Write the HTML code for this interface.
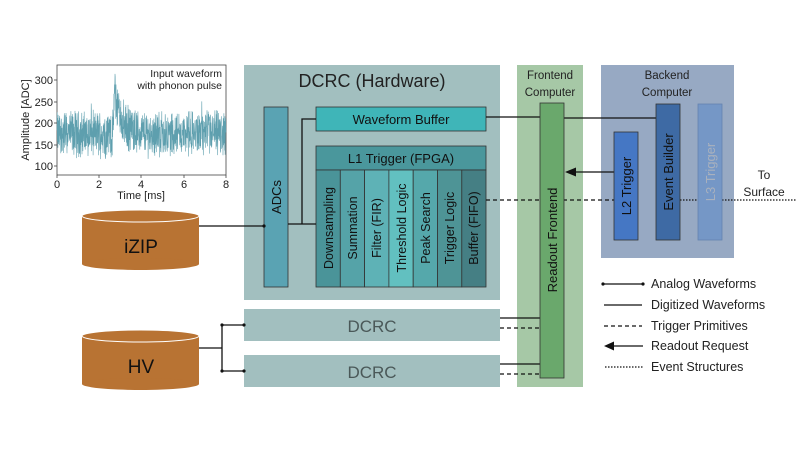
<!DOCTYPE html>
<html><head><meta charset="utf-8"><style>
html,body{margin:0;padding:0;background:#fff;}
svg{display:block;font-family:"Liberation Sans",sans-serif;}
</style></head><body>
<svg id="s" width="805" height="453" viewBox="0 0 805 453">
<!-- plot -->
<g font-size="11" fill="#222">
<rect x="57" y="65" width="169" height="110" fill="#fff" stroke="#444" stroke-width="0.8"/>
<polyline id="wf" fill="none" stroke="#5e9fae" stroke-width="0.6" points=""/>
<text x="222" y="77" text-anchor="end" font-size="10.5">Input waveform</text>
<text x="222" y="89" text-anchor="end" font-size="10.5">with phonon pulse</text>
<g text-anchor="end">
<text x="53" y="84">300</text><text x="53" y="106">250</text><text x="53" y="127">200</text><text x="53" y="149">150</text><text x="53" y="170">100</text>
</g>
<g stroke="#444" stroke-width="0.8">
<line x1="54" y1="80" x2="57" y2="80"/><line x1="54" y1="102" x2="57" y2="102"/><line x1="54" y1="123" x2="57" y2="123"/><line x1="54" y1="145" x2="57" y2="145"/><line x1="54" y1="166" x2="57" y2="166"/>
<line x1="57" y1="175" x2="57" y2="178"/><line x1="99" y1="175" x2="99" y2="178"/><line x1="141" y1="175" x2="141" y2="178"/><line x1="184" y1="175" x2="184" y2="178"/><line x1="226" y1="175" x2="226" y2="178"/>
</g>
<g text-anchor="middle"><text x="57" y="188">0</text><text x="99" y="188">2</text><text x="141" y="188">4</text><text x="184" y="188">6</text><text x="226" y="188">8</text>
<text x="141" y="199">Time [ms]</text></g>
<text transform="translate(29,120) rotate(-90)" text-anchor="middle">Amplitude [ADC]</text>
</g>

<!-- DCRC hardware -->
<rect x="244" y="65" width="256" height="235" fill="#a2bfbf"/>
<text x="372" y="87" font-size="18" text-anchor="middle" fill="#222">DCRC (Hardware)</text>
<rect x="264" y="107" width="24" height="180" fill="#5aa3b3" stroke="#333" stroke-width="0.8"/>
<text transform="translate(281,197) rotate(-90)" text-anchor="middle" font-size="13" fill="#111">ADCs</text>
<rect x="316" y="107" width="170" height="24" fill="#3fb5b8" stroke="#333" stroke-width="0.8"/>
<text x="401" y="124" text-anchor="middle" font-size="13" fill="#111">Waveform Buffer</text>
<rect x="316" y="146" width="170" height="24" fill="#4a979c" stroke="#333" stroke-width="0.8"/>
<text x="401" y="163" text-anchor="middle" font-size="13" fill="#111">L1 Trigger (FPGA)</text>
<g stroke="#333" stroke-width="0.8">
<rect x="316" y="170" width="24.3" height="117" fill="#4a9499"/>
<rect x="340.3" y="170" width="24.3" height="117" fill="#55a3a8"/>
<rect x="364.6" y="170" width="24.3" height="117" fill="#5eb2b6"/>
<rect x="388.9" y="170" width="24.3" height="117" fill="#62c0c0"/>
<rect x="413.2" y="170" width="24.3" height="117" fill="#55a8ab"/>
<rect x="437.5" y="170" width="24.3" height="117" fill="#4e9496"/>
<rect x="461.8" y="170" width="24.2" height="117" fill="#457f84"/>
</g>
<g font-size="12.5" fill="#111" text-anchor="middle">
<text transform="translate(333,228) rotate(-90)">Downsampling</text>
<text transform="translate(357,228) rotate(-90)">Summation</text>
<text transform="translate(381,228) rotate(-90)">Filter (FIR)</text>
<text transform="translate(406,228) rotate(-90)">Threshold Logic</text>
<text transform="translate(430,228) rotate(-90)">Peak Search</text>
<text transform="translate(454,228) rotate(-90)">Trigger Logic</text>
<text transform="translate(478,228) rotate(-90)">Buffer (FIFO)</text>
</g>

<!-- small DCRCs -->
<rect x="244" y="309" width="256" height="32" fill="#a2bfbf"/>
<text x="372" y="332" text-anchor="middle" font-size="17" fill="#4a5858">DCRC</text>
<rect x="244" y="355" width="256" height="32" fill="#a2bfbf"/>
<text x="372" y="378" text-anchor="middle" font-size="17" fill="#4a5858">DCRC</text>

<!-- frontend -->
<rect x="517" y="65" width="66" height="322" fill="#a6c8a6"/>
<text x="550" y="79" text-anchor="middle" font-size="11.5" fill="#222">Frontend</text>
<text x="550" y="96" text-anchor="middle" font-size="11.5" fill="#222">Computer</text>

<!-- backend -->
<rect x="601" y="65" width="133" height="193" fill="#97a9c3"/>
<text x="667" y="79" text-anchor="middle" font-size="11.5" fill="#222">Backend</text>
<text x="667" y="96" text-anchor="middle" font-size="11.5" fill="#222">Computer</text>

<!-- lines -->
<g stroke="#111" stroke-width="1.3" fill="none">
<line x1="199" y1="226" x2="264" y2="226"/>
<line x1="288" y1="224" x2="316" y2="224"/>
<polyline points="302,224 302,119 316,119"/>
<line x1="486" y1="117" x2="540" y2="117"/>
<line x1="564" y1="118" x2="656" y2="118"/>
<line x1="575" y1="172" x2="614" y2="172"/>
<line x1="486" y1="200" x2="614" y2="200" stroke-dasharray="4,3"/>
<line x1="680" y1="200" x2="698" y2="200" stroke-dasharray="1.5,1.5"/>
<line x1="722" y1="200" x2="797" y2="200" stroke-dasharray="1.5,1.5"/>
<line x1="500" y1="318" x2="540" y2="318"/>
<line x1="500" y1="328" x2="540" y2="328" stroke-dasharray="4,3"/>
<line x1="500" y1="364" x2="540" y2="364"/>
<line x1="500" y1="374" x2="540" y2="374" stroke-dasharray="4,3"/>
<line x1="199" y1="348" x2="222" y2="348"/>
<line x1="222" y1="325" x2="222" y2="371"/>
<line x1="222" y1="325" x2="244" y2="325"/>
<line x1="222" y1="371" x2="244" y2="371"/>
</g>
<polygon points="565,172 576,167.5 576,176.5" fill="#111"/>
<g fill="#111"><circle cx="264" cy="226" r="1.6"/><circle cx="222" cy="325" r="1.6"/><circle cx="222" cy="371" r="1.6"/><circle cx="244" cy="325" r="1.6"/><circle cx="244" cy="371" r="1.6"/></g>

<!-- readout frontend -->
<rect x="540" y="103" width="24" height="275" fill="#6aa86c" stroke="#333" stroke-width="0.8"/>
<text transform="translate(557,240) rotate(-90)" text-anchor="middle" font-size="13" fill="#111">Readout Frontend</text>

<!-- backend blocks -->
<rect x="614" y="132" width="24" height="108" fill="#4577c4" stroke="#333" stroke-width="0.8"/>
<text transform="translate(631,186) rotate(-90)" text-anchor="middle" font-size="13" fill="#111">L2 Trigger</text>
<rect x="656" y="104" width="24" height="136" fill="#3e6aa4" stroke="#333" stroke-width="0.8"/>
<text transform="translate(673,172) rotate(-90)" text-anchor="middle" font-size="13" fill="#111">Event Builder</text>
<rect x="698" y="104" width="24" height="136" fill="#7597c6" stroke="#6583b0" stroke-width="0.8"/>
<text transform="translate(715,172) rotate(-90)" text-anchor="middle" font-size="13" fill="#a9b1be">L3 Trigger</text>
<text x="764" y="179" text-anchor="middle" font-size="12" fill="#222">To</text>
<text x="764" y="196" text-anchor="middle" font-size="12" fill="#222">Surface</text>

<!-- cylinders -->
<g fill="#b87333">
<rect x="82" y="216" width="117" height="48"/>
<ellipse cx="140.5" cy="264" rx="58.5" ry="6"/>
<ellipse cx="140.5" cy="216" rx="58.5" ry="6" stroke="#fff" stroke-width="1"/>
<rect x="82" y="336" width="117" height="48"/>
<ellipse cx="140.5" cy="384" rx="58.5" ry="6"/>
<ellipse cx="140.5" cy="336" rx="58.5" ry="6" stroke="#fff" stroke-width="1"/>
</g>
<text x="141" y="253" text-anchor="middle" font-size="19" fill="#111">iZIP</text>
<text x="141" y="373" text-anchor="middle" font-size="19" fill="#111">HV</text>

<!-- legend -->
<g stroke="#111" stroke-width="1.3">
<line x1="603" y1="284" x2="643" y2="284"/>
<line x1="604" y1="305" x2="642" y2="305"/>
<line x1="604" y1="326" x2="642" y2="326" stroke-dasharray="4,3"/>
<line x1="610" y1="346" x2="643" y2="346"/>
<line x1="605" y1="367" x2="643" y2="367" stroke-dasharray="1.5,1.5"/>
</g>
<circle cx="603" cy="284" r="1.6" fill="#111"/><circle cx="643" cy="284" r="1.6" fill="#111"/>
<polygon points="604,346 614,341.5 614,350.5" fill="#111"/>
<g font-size="12.5" fill="#222">
<text x="651" y="288">Analog Waveforms</text>
<text x="651" y="309">Digitized Waveforms</text>
<text x="651" y="330">Trigger Primitives</text>
<text x="651" y="350">Readout Request</text>
<text x="651" y="371">Event Structures</text>
</g>
</svg>
<script>
(function(){
var seed=12345;function r(){seed=(seed*1103515245+12345)%2147483648;return seed/2147483648;}
var pts=[];
for(var i=0;i<=900;i++){
 var t=i/900*8;var v=175+(r()-0.5)*90+(r()-0.5)*30;
 if(r()<0.03)v+=(r()-0.5)*80;
 if(t>2.65){var d=t-2.65;v+=130*Math.exp(-d/0.3)*(d<0.08?d/0.08:1);}
 v=Math.max(92,Math.min(322,v));
 var x=57+t/8*169;var y=166-0.43*(v-100);
 pts.push(x.toFixed(1)+","+y.toFixed(1));
}
document.getElementById("wf").setAttribute("points",pts.join(" "));
})();
</script>
</body></html>
